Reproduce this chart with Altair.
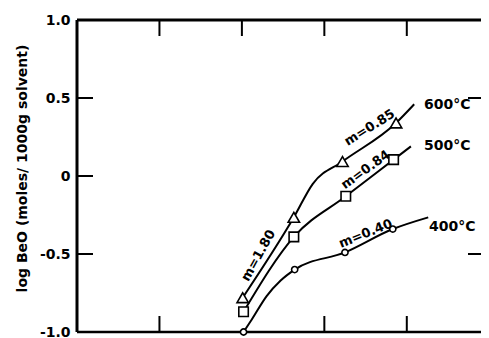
import altair as alt
import pandas as pd

# ---- data (x in axis units, y = log BeO) ----
t600_x = [2.01, 2.63, 3.22, 3.87]
t600_y = [-0.78, -0.265, 0.093, 0.34]
t600_line_x = [2.01, 2.63, 2.86, 3.22, 3.87, 4.09]
t600_line_y = [-0.78, -0.265, -0.05, 0.093, 0.34, 0.46]

t500_x = [2.02, 2.63, 3.26, 3.84]
t500_y = [-0.87, -0.39, -0.13, 0.105]
t500_line_x = [2.02, 2.63, 3.26, 3.84, 4.05]
t500_line_y = [-0.87, -0.39, -0.13, 0.105, 0.19]

t400_x = [2.02, 2.64, 3.25, 3.83]
t400_y = [-1.0, -0.60, -0.49, -0.34]
t400_line_x = [2.02, 2.12, 2.30, 2.47, 2.64, 3.25, 3.83, 4.26]
t400_line_y = [-1.0, -0.92, -0.77, -0.67, -0.60, -0.49, -0.34, -0.265]

temp_labels = ["600°C", "500°C", "400°C"]
temp_x = [4.21, 4.21, 4.27]
temp_y = [0.457, 0.195, -0.33]

slope_labels = ["m=1.80", "m=0.85", "m=0.84", "m=0.40"]
slope_x = [2.20, 3.55, 3.50, 3.50]
slope_y = [-0.51, 0.31, 0.04, -0.37]
slope_angle = [299, 328, 324, 338]

y_tick_values = [-1.0, -0.5, 0, 0.5, 1.0]
left_ticks = [0.5, 0, -0.5]
right_ticks = [0.5, -0.5]
top_ticks = [1, 2, 3, 4]
bottom_ticks = [1, 3, 4]

W, H = 404, 312
FONT = "DejaVu Sans"

xs = alt.Scale(domain=[0, 4.9], nice=False, zero=False)
ys = alt.Scale(domain=[-1, 1], nice=False, zero=False)

yaxis = alt.Axis(
    values=y_tick_values, domain=False, ticks=False, grid=False,
    labelFont=FONT, labelFontSize=14, labelFontWeight="bold", labelColor="black",
    labelPadding=7,
    labelExpr="datum.value == 0 ? '0' : replace(format(datum.value, '.1f'), '−', '-')",
    title="log BeO (moles/ 1000g solvent)", titleFont=FONT, titleFontSize=14,
    titleFontWeight="bold", titleColor="black", titleAngle=270,
    titleX=-55, titleY=148, titleAlign="center", titleBaseline="middle",
)


def X():
    return alt.X("x:Q", scale=xs, axis=None)


def Y():
    return alt.Y("y:Q", scale=ys, axis=yaxis)


def df(x, y):
    return pd.DataFrame({"x": x, "y": y})


layers = []

# inward ticks
layers.append(alt.Chart(pd.DataFrame({"y": left_ticks})).mark_rule(color="black", strokeWidth=2).encode(
    y=Y(), x=alt.value(0), x2=alt.value(16)))
layers.append(alt.Chart(pd.DataFrame({"y": right_ticks})).mark_rule(color="black", strokeWidth=2).encode(
    y=Y(), x=alt.value(W - 13), x2=alt.value(W)))
layers.append(alt.Chart(pd.DataFrame({"x": top_ticks})).mark_rule(color="black", strokeWidth=2).encode(
    x=X(), y=alt.value(0), y2=alt.value(16)))
layers.append(alt.Chart(pd.DataFrame({"x": bottom_ticks})).mark_rule(color="black", strokeWidth=2).encode(
    x=X(), y=alt.value(H), y2=alt.value(H - 16)))

# frame (left, top, bottom)
one = pd.DataFrame({"a": [0]})
layers.append(alt.Chart(one).mark_rule(color="black", strokeWidth=3).encode(
    x=alt.value(0), y=alt.value(0), y2=alt.value(H)))
layers.append(alt.Chart(one).mark_rule(color="black", strokeWidth=3).encode(
    x=alt.value(0), x2=alt.value(W), y=alt.value(0)))
layers.append(alt.Chart(one).mark_rule(color="black", strokeWidth=2.5).encode(
    x=alt.value(0), x2=alt.value(W), y=alt.value(H)))

# curves
for lx, ly in [(t600_line_x, t600_line_y), (t500_line_x, t500_line_y), (t400_line_x, t400_line_y)]:
    layers.append(alt.Chart(df(lx, ly)).mark_line(color="black", strokeWidth=2, interpolate="monotone").encode(
        x=X(), y=Y()))

# markers
for mx, my, shape, size in [(t600_x, t600_y, "triangle-up", 130),
                            (t500_x, t500_y, "square", 90),
                            (t400_x, t400_y, "circle", 38)]:
    layers.append(alt.Chart(df(mx, my)).mark_point(
        shape=shape, size=size, filled=True, fill="white", stroke="black", strokeWidth=1.6,
        opacity=1).encode(x=X(), y=Y()))

# temperature labels
layers.append(alt.Chart(pd.DataFrame({"x": temp_x, "y": temp_y, "t": temp_labels})).mark_text(
    align="left", baseline="middle", font=FONT, fontSize=14, fontWeight="bold", color="black").encode(
    x=X(), y=Y(), text="t:N"))

# slope labels
layers.append(alt.Chart(pd.DataFrame({"x": slope_x, "y": slope_y, "t": slope_labels, "a": slope_angle})).mark_text(
    align="center", baseline="middle", font=FONT, fontSize=13, fontWeight="bold", color="black").encode(
    x=X(), y=Y(), text="t:N", angle=alt.Angle("a:Q", scale=None)))

chart = alt.layer(*layers).properties(
    width=W, height=H,
    autosize=alt.AutoSizeParams(type="none"),
    padding={"left": 69, "top": 12, "right": 0, "bottom": 6},
    background="white",
).configure_view(stroke=None)

chart.save("out.html", embed_options={"renderer": "svg", "actions": False})
